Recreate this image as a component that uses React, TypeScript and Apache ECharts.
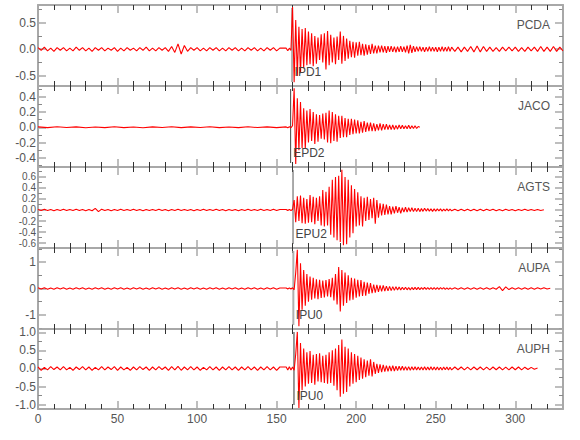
import React, { useEffect, useRef } from "react";
import * as echarts from "echarts";

// ---- data ----
const stations = ["PCDA", "JACO", "AGTS", "AUPA", "AUPH"];
const phases = ["IPD1", "EPD2", "EPU2", "IPU0", "IPU0"];
const pickTimes = [159.7, 158.8, 160.3, 160.5, 160.9];
const yMins = [-0.69, -0.52, -0.69, -1.53, -1.12];
const yMaxs = [0.83, 0.54, 0.78, 1.53, 1.09];
const ySplits = [3, 5, 7, 3, 4];
const yDecimals = [1, 1, 1, 0, 1];
const xMin = 0;
const xMax = 330;
const xInterval = 50;

// sample timing of the three segments of each trace (seconds)
const preSteps = [2, 6, 2, 2, 2];
const EVENT_START = 156;
const POST_START = 262;
const POST_STEP = 2;

const pcdaPre = [
  0.03, -0.02, 0.04, -0.03, 0.02, -0.04, 0.03, -0.02, 0.03, -0.03,
  0.02, -0.03, 0.04, -0.02, 0.03, -0.03, 0.02, -0.04, 0.03, -0.02,
  0.03, -0.03, 0.02, -0.02, 0.03, -0.04, 0.02, -0.03, 0.03, -0.02,
  0.02, -0.03, 0.03, -0.02, 0.04, -0.03, 0.02, -0.03, 0.03, -0.02,
  0.03, -0.04, 0.05, -0.06, 0.1, -0.09, 0.07, -0.04, 0.03, -0.02,
  0.03, -0.03, 0.02, -0.03, 0.03, -0.02, 0.03, -0.03, 0.02, -0.03,
  0.03, -0.02, 0.03, -0.03, 0.02, -0.03, 0.03, -0.02, 0.03, -0.03,
  0.02, -0.03, 0.03, -0.02, 0.03, -0.03, 0.02,
];
const pcdaEvent = [
  0.02, -0.03, 0.02, -0.02,
  0.79, -0.62, 0.55, -0.5, 0.42, -0.45, 0.38, -0.35, 0.4, -0.3,
  0.33, -0.28, 0.3, -0.32, 0.25, -0.27, 0.22, -0.2, 0.28, -0.25,
  0.3, -0.38, 0.34, -0.3, 0.27, -0.25, 0.22, -0.28, 0.24, -0.2,
  0.33, -0.27, 0.25, -0.22, 0.2, -0.18, 0.16, -0.15, 0.14, -0.16,
  0.13, -0.12, 0.14, -0.11, 0.1, -0.12, 0.09, -0.1, 0.08, -0.09,
  0.1, -0.08, 0.07, -0.08, 0.07, -0.06, 0.07, -0.06, 0.06, -0.07,
  0.06, -0.05, 0.06, -0.05, 0.05, -0.06, 0.05, -0.05, 0.06, -0.05,
  0.05, -0.06, 0.07, -0.08, 0.08, -0.07, 0.06, -0.05, 0.05, -0.04,
  0.05, -0.04, 0.04, -0.05, 0.04, -0.04, 0.05, -0.04, 0.04, -0.04,
  0.04, -0.05, 0.04, -0.04, 0.05, -0.04, 0.04, -0.04, 0.05, -0.04, 0.04,
];
const pcdaPost = [
  -0.04, 0.04, -0.05, 0.04, -0.04, 0.05, -0.05, 0.06, -0.05, 0.05,
  -0.04, 0.04, -0.04, 0.03, -0.04, 0.04, -0.03, 0.04, -0.03, 0.04,
  -0.04, 0.03, -0.04, 0.04, -0.03, 0.04, -0.04, 0.05, -0.04, 0.04,
  -0.04, 0.05, -0.04, 0.04, -0.03,
];

const jacoPre = [
  0.005, -0.005, 0.006, -0.004, 0.005, -0.006, 0.004, -0.005, 0.006, -0.005,
  0.004, -0.006, 0.005, -0.004, 0.006, -0.005, 0.005, -0.004, 0.006, -0.005,
  0.004, -0.005, 0.006, -0.004, 0.005, -0.005,
];
const jacoEvent = [
  0.005, -0.005, 0.006, -0.005,
  0.02, 0.51, -0.48, 0.38, -0.3, 0.33, -0.27, 0.25, -0.28, 0.22,
  -0.2, 0.24, -0.18, 0.2, -0.22, 0.17, -0.19, 0.16, -0.15, 0.18,
  -0.16, 0.19, -0.2, 0.22, -0.21, 0.2, -0.18, 0.17, -0.19, 0.15,
  -0.14, 0.15, -0.13, 0.12, -0.13, 0.11, -0.1, 0.11, -0.09, 0.1,
  -0.08, 0.09, -0.08, 0.07, -0.07, 0.08, -0.06, 0.06, -0.05, 0.06,
  -0.05, 0.05, -0.05, 0.04, -0.04, 0.05, -0.04, 0.04, -0.03, 0.04,
  -0.03, 0.03, -0.03, 0.03, -0.03, 0.025, -0.025, 0.03, -0.02, 0.025,
  -0.02, 0.02, -0.02, 0.025, -0.02, 0.02, -0.015, 0.02, -0.015, 0.01, 0,
];
const jacoPost: number[] = [];

const agtsPre = [
  0.01, -0.01, 0.012, -0.01, 0.01, -0.012, 0.01, -0.01, 0.012, -0.01,
  0.01, -0.01, 0.012, -0.01, 0.01, -0.012, 0.01, -0.015, 0.03, -0.03,
  0.015, -0.01, 0.01, -0.012, 0.01, -0.01, 0.012, -0.01, 0.01, -0.01,
  0.012, -0.01, 0.01, -0.012, 0.01, -0.01, 0.01, -0.01, 0.012, -0.01,
  0.01, -0.012, 0.01, -0.01, 0.012, -0.01, 0.01, -0.01, 0.01, -0.012,
  0.01, -0.01, 0.012, -0.01, 0.01, -0.01, 0.012, -0.01, 0.01, -0.012,
  0.01, -0.01, 0.01, -0.012, 0.01, -0.01, 0.012, -0.01, 0.01, -0.01,
  0.012, -0.01, 0.01, -0.01, 0.012, -0.01, 0.01,
];
const agtsEvent = [
  0.01, -0.01, 0.012, -0.01,
  0.01, 0.18, -0.22, 0.25, -0.2, 0.26, -0.24, 0.22, -0.25, 0.2,
  -0.23, 0.27, -0.22, 0.24, -0.26, 0.22, -0.2, 0.25, -0.28, 0.36,
  -0.3, 0.33, -0.28, 0.42, -0.45, 0.55, -0.5, 0.6, -0.55, 0.62,
  -0.58, 0.73, -0.64, 0.6, -0.62, 0.55, -0.5, 0.45, -0.42, 0.38,
  -0.3, 0.32, -0.28, 0.25, -0.3, 0.22, -0.2, 0.24, -0.18, 0.2,
  -0.15, 0.22, -0.25, 0.18, -0.14, 0.12, -0.1, 0.11, -0.09, 0.1,
  -0.08, 0.07, -0.08, 0.06, -0.06, 0.07, -0.05, 0.05, -0.06, 0.04,
  -0.04, 0.05, -0.04, 0.04, -0.03, 0.04, -0.03, 0.03, -0.03, 0.03,
  -0.03, 0.025, -0.025, 0.03, -0.02, 0.025, -0.02, 0.02, -0.025, 0.02,
  -0.02, 0.02, -0.015, 0.02, -0.02, 0.015, -0.015, 0.02, -0.015, 0.015, -0.015,
];
const agtsPost = [
  0.015, -0.012, 0.015, -0.015, 0.012, -0.012, 0.015, -0.012, 0.012, -0.015,
  0.012, -0.01, 0.012, -0.012, 0.01, -0.012, 0.012, -0.01, 0.01, -0.012,
  0.01, -0.01, 0.012, -0.01, 0.01, -0.01, 0.01, -0.008, 0.005,
];

const aupaPre = [
  0.03, -0.02, 0.025, -0.03, 0.02, -0.025, 0.03, -0.02, 0.025, -0.025,
  0.02, -0.03, 0.025, -0.02, 0.03, -0.025, 0.02, -0.025, 0.03, -0.02,
  0.025, -0.03, 0.02, -0.025, 0.025, -0.02, 0.03, -0.025, 0.02, -0.03,
  0.025, -0.02, 0.025, -0.03, 0.02, -0.025, 0.03, -0.02, 0.025, -0.025,
  0.02, -0.03, 0.025, -0.02, 0.03, -0.025, 0.02, -0.025, 0.03, -0.02,
  0.025, -0.03, 0.02, -0.025, 0.025, -0.02, 0.03, -0.025, 0.02, -0.03,
  0.025, -0.02, 0.025, -0.03, 0.02, -0.025, 0.03, -0.02, 0.025, -0.025,
  0.02, -0.03, 0.025, -0.02, 0.03, -0.025, 0.02,
];
const aupaEvent = [
  0.02, -0.02, 0.025, -0.02,
  0.03, -0.05, 0.6, 1.46, -1.43, 0.95, -0.8, 0.7, -0.65, 0.55,
  -0.5, 0.45, -0.42, 0.4, -0.38, 0.35, -0.4, 0.33, -0.36, 0.3,
  -0.34, 0.32, -0.3, 0.36, -0.33, 0.4, -0.45, 0.55, -0.6, 0.81,
  -0.87, 0.7, -0.65, 0.6, -0.55, 0.5, -0.45, 0.4, -0.42, 0.38,
  -0.35, 0.33, -0.3, 0.32, -0.28, 0.25, -0.27, 0.22, -0.2, 0.2,
  -0.18, 0.15, -0.16, 0.14, -0.13, 0.12, -0.11, 0.12, -0.1, 0.09,
  -0.09, 0.08, -0.08, 0.07, -0.07, 0.07, -0.06, 0.06, -0.06, 0.05,
  -0.05, 0.05, -0.05, 0.04, -0.05, 0.04, -0.04, 0.04, -0.04, 0.04,
  -0.04, 0.035, -0.035, 0.04, -0.03, 0.035, -0.03, 0.03, -0.035, 0.03,
  -0.03, 0.03, -0.03, 0.03, -0.025, 0.03, -0.03, 0.025, -0.03, 0.025, -0.025,
];
const aupaPost = [
  0.025, -0.03, 0.025, -0.025, 0.03, -0.025, 0.025, -0.025, 0.03, -0.025,
  0.025, -0.03, 0.025, -0.03, 0.07, -0.08, 0.06, -0.04, 0.03, -0.025,
  0.025, -0.025, 0.03, -0.025, 0.025, -0.025, 0.025, -0.02, 0.025, -0.02,
  0.01,
];

const auphPre = [
  0.04, -0.05, 0.03, -0.04, 0.05, -0.03, 0.04, -0.04, 0.05, -0.04,
  0.03, -0.05, 0.04, -0.03, 0.05, -0.04, 0.04, -0.05, 0.03, -0.04,
  0.05, -0.04, 0.04, -0.03, 0.05, -0.05, 0.04, -0.04, 0.03, -0.05,
  0.04, -0.04, 0.05, -0.03, 0.04, -0.05, 0.04, -0.04, 0.05, -0.03,
  0.04, -0.05, 0.05, -0.04, 0.06, -0.05, 0.04, -0.04, 0.05, -0.04,
  0.04, -0.05, 0.03, -0.04, 0.05, -0.04, 0.04, -0.05, 0.04, -0.04,
  0.05, -0.04, 0.04, -0.05, 0.04, -0.04, 0.05, -0.04, 0.04, -0.05,
  0.04, -0.04, 0.05, -0.04, 0.04, -0.05, 0.04,
];
const auphEvent = [
  0.04, -0.04, 0.05, -0.04,
  0.04, -0.05, 0.4, 1.01, -1.09, 0.7, -0.6, 0.55, -0.5, 0.45,
  -0.42, 0.48, -0.4, 0.38, -0.45, 0.4, -0.36, 0.42, -0.38, 0.35,
  -0.4, 0.38, -0.42, 0.45, -0.4, 0.5, -0.48, 0.55, -0.6, 0.65,
  -0.78, 0.8, -0.7, 0.6, -0.65, 0.55, -0.5, 0.45, -0.42, 0.4,
  -0.38, 0.35, -0.32, 0.3, -0.28, 0.25, -0.24, 0.22, -0.2, 0.25,
  -0.22, 0.18, -0.15, 0.13, -0.12, 0.11, -0.1, 0.1, -0.09, 0.08,
  -0.08, 0.07, -0.07, 0.08, -0.07, 0.06, -0.06, 0.06, -0.05, 0.06,
  -0.05, 0.05, -0.05, 0.05, -0.05, 0.045, -0.045, 0.05, -0.045, 0.04,
  -0.045, 0.04, -0.04, 0.045, -0.04, 0.04, -0.04, 0.045, -0.04, 0.04,
  -0.04, 0.04, -0.04, 0.035, -0.04, 0.04, -0.035, 0.04, -0.04, 0.035, -0.04,
];
const auphPost = [
  0.04, -0.035, 0.04, -0.04, 0.035, -0.04, 0.04, -0.035, 0.04, -0.04,
  0.035, -0.04, 0.04, -0.035, 0.04, -0.04, 0.035, -0.04, 0.04, -0.035,
  0.04, -0.04, 0.035, -0.03, 0.03, -0.02, 0.01,
];

const traces = [
  [pcdaPre, pcdaEvent, pcdaPost],
  [jacoPre, jacoEvent, jacoPost],
  [agtsPre, agtsEvent, agtsPost],
  [aupaPre, aupaEvent, aupaPost],
  [auphPre, auphEvent, auphPost],
];

// ---- layout / style ----
const GRID_TOPS = [5, 86, 167, 248, 329];
const GRID_HEIGHTS = [81, 81, 81, 81, 80];
const GRID_LEFT = 38;
const GRID_RIGHT = 17;
const FONT = "'Liberation Sans', Arial, sans-serif";
const LABEL_COLOR = "#555";
const AXIS_GRAY = "#a8a8a8";
const yLabelSizes = [12, 12, 10, 12, 12];
const pickLineStyles = [
  { stroke: "#b0b0b0", lineWidth: 2 },
  { stroke: "#444", lineWidth: 1 },
  { stroke: "#555", lineWidth: 1 },
  { stroke: "#b0b0b0", lineWidth: 2 },
  { stroke: "#333", lineWidth: 1 },
];

function buildTrace(i: number) {
  const [pre, ev, post] = traces[i];
  const d: number[][] = [];
  pre.forEach((v, k) => d.push([k * preSteps[i], v]));
  ev.forEach((v, k) => d.push([EVENT_START + k, v]));
  post.forEach((v, k) => d.push([POST_START + k * POST_STEP, v]));
  return d;
}

function fmt(dec: number) {
  return (v: number) => {
    const s = Math.abs(v) < 1e-9 ? 0 : v;
    return s.toFixed(dec);
  };
}

export default function App() {
  const ref = useRef<HTMLDivElement>(null);
  useEffect(() => {
    if (!ref.current) return;
    const chart = echarts.init(ref.current, null, { renderer: "svg" });
    const grids: any[] = [];
    const xAxes: any[] = [];
    const yAxes: any[] = [];
    const series: any[] = [];
    const baseTick = {
      axisLine: { show: true, onZero: false, lineStyle: { color: AXIS_GRAY, width: 2 } },
      axisTick: { show: true, inside: true, length: 8, lineStyle: { color: AXIS_GRAY, width: 1.5 } },
      splitLine: { show: false },
      minorSplitLine: { show: false },
    };
    for (let i = 0; i < 5; i++) {
      grids.push({
        left: GRID_LEFT,
        right: GRID_RIGHT,
        top: GRID_TOPS[i],
        height: GRID_HEIGHTS[i],
        containLabel: false,
        outerBoundsMode: "none",
      });
      const isLast = i === 4;
      const xMinor = { show: true, splitNumber: 5, length: 5, lineStyle: { color: "#333", width: 1 } };
      xAxes.push({
        type: "value",
        gridIndex: i,
        position: "bottom",
        min: xMin,
        max: xMax,
        interval: xInterval,
        ...baseTick,
        minorTick: xMinor,
        axisLabel: {
          show: isLast,
          color: LABEL_COLOR,
          fontSize: 12,
          fontFamily: FONT,
          margin: 4,
          showMaxLabel: false,
        },
      });
      xAxes.push({
        type: "value",
        gridIndex: i,
        position: "top",
        min: xMin,
        max: xMax,
        interval: xInterval,
        ...baseTick,
        minorTick: xMinor,
        axisLabel: { show: false, showMaxLabel: false },
      });
      const yCommon = {
        type: "value",
        gridIndex: i,
        min: yMins[i],
        max: yMaxs[i],
        splitNumber: ySplits[i],
        ...baseTick,
        minorTick: { show: true, splitNumber: 2, length: 4, lineStyle: { color: "#888", width: 1 } },
      };
      yAxes.push({
        ...yCommon,
        position: "left",
        axisLabel: {
          show: true,
          color: LABEL_COLOR,
          fontSize: yLabelSizes[i],
          fontFamily: FONT,
          margin: 2,
          showMinLabel: false,
          showMaxLabel: false,
          formatter: fmt(yDecimals[i]),
        },
      });
      yAxes.push({
        ...yCommon,
        position: "right",
        axisLabel: { show: false, showMinLabel: false, showMaxLabel: false },
      });
      series.push({
        type: "line",
        xAxisIndex: 2 * i,
        yAxisIndex: 2 * i,
        data: buildTrace(i),
        showSymbol: false,
        symbol: "none",
        lineStyle: { color: "#ff0000", width: 1.1 },
        silent: true,
        z: 3,
      });
    }
    chart.setOption({
      animation: false,
      backgroundColor: "#ffffff",
      grid: grids,
      xAxis: xAxes,
      yAxis: yAxes,
      series,
    });
    const graphics: any[] = [];
    for (let i = 0; i < 5; i++) {
      const top = GRID_TOPS[i];
      const bottom = top + GRID_HEIGHTS[i];
      const p = chart.convertToPixel({ gridIndex: i }, [pickTimes[i], 0]) as number[];
      const px = p[0];
      graphics.push({
        type: "line",
        z: 1,
        shape: { x1: px, y1: top + 3, x2: px, y2: bottom - 4 },
        style: pickLineStyles[i],
        silent: true,
      });
      graphics.push({
        type: "text",
        z: 100,
        x: px + 2.5,
        y: top + 66.5,
        style: {
          text: phases[i],
          fill: "#444",
          fontSize: 12,
          fontFamily: FONT,
          align: "left",
          verticalAlign: "middle",
        },
        silent: true,
      });
      graphics.push({
        type: "text",
        z: 100,
        x: 550,
        y: top + 20,
        style: {
          text: stations[i],
          fill: LABEL_COLOR,
          fontSize: 12,
          fontFamily: FONT,
          align: "right",
          verticalAlign: "middle",
        },
        silent: true,
      });
    }
    chart.setOption({ graphic: graphics });
    return () => chart.dispose();
  }, []);
  return (
    <div
      ref={ref}
      style={{ position: "fixed", left: 0, top: 0, width: 580, height: 440, background: "#fff" }}
    />
  );
}
